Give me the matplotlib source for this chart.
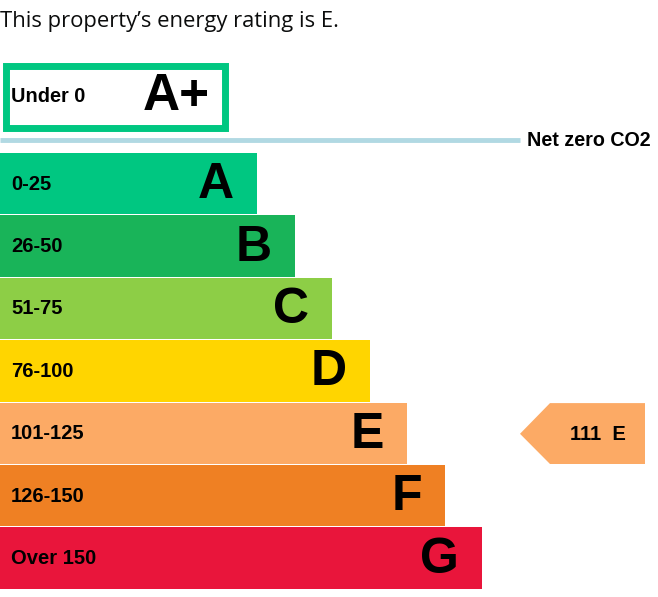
import matplotlib
matplotlib.use("Agg")
import matplotlib.pyplot as plt
from matplotlib.patches import Rectangle, Polygon

# ---- data ----
bands = ["A", "B", "C", "D", "E", "F", "G"]
ranges = ["0-25", "26-50", "51-75", "76-100", "101-125", "126-150", "Over 150"]
bar_lengths = [257, 295, 332, 370, 407, 445, 482]
colors = ["#00c781", "#19b459", "#8dce46", "#ffd500", "#fcaa65", "#ef8023", "#e9153b"]
aplus_label = "Under 0"
aplus_band = "A+"
current_score = 111
current_band = "E"
title = "This property\u2019s energy rating is E."
netzero_label = "Net zero CO2"

W, H = 658, 597
fig = plt.figure(figsize=(W / 100, H / 100), dpi=100)
ax = fig.add_axes([0, 0, 1, 1])
ax.set_xlim(0, W)
ax.set_ylim(H, 0)
ax.axis("off")

FONT = "Liberation Sans"

# title
ax.text(0, 21, title, fontsize=15.8, family="Open Sans", color="#0b0c0c",
        va="center", ha="left")

# A+ box
ax.add_patch(Rectangle((6, 65.5), 219, 62, facecolor="white", edgecolor="#00c781", linewidth=5))
ax.text(11, 96.5, aplus_label, fontsize=14.3, family=FONT, weight="bold", va="center", ha="left")
ax.text(210, 96.5, aplus_band, fontsize=37, family=FONT, weight="bold", va="center", ha="right")

# net zero line
ax.plot([0, 520], [140, 140], color="#b1d9e3", linewidth=3.5, solid_capstyle="butt")
ax.text(527, 140, netzero_label, fontsize=14.2, family=FONT, weight="bold", va="center", ha="left")

# bars
top0 = 153
h = 62.4
for i, (b, r, L, c) in enumerate(zip(bands, ranges, bar_lengths, colors)):
    y0 = top0 + i * h
    ax.add_patch(Rectangle((0, y0), L, h - 1, facecolor=c, edgecolor="none"))
    ax.text(11, y0 + h / 2, r, fontsize=14.5, family=FONT, weight="bold", va="center", ha="left")
    ax.text(L - 23, y0 + h / 2 + 1, b, fontsize=36, family=FONT, weight="bold", va="center", ha="right")

# current rating arrow
ci = bands.index(current_band)
y0 = top0 + ci * h
yc = y0 + h / 2
poly = Polygon([(520, yc), (550, y0 + 0.5), (645, y0 + 0.5), (645, y0 + h - 1), (550, y0 + h - 1)],
               closed=True, facecolor=colors[ci], edgecolor="none")
ax.add_patch(poly)
ax.text(626, yc + 1, f"{current_score}  {current_band}", fontsize=14.5, family=FONT,
        weight="bold", va="center", ha="right")

fig.savefig("out.png", dpi=100, facecolor="white")
